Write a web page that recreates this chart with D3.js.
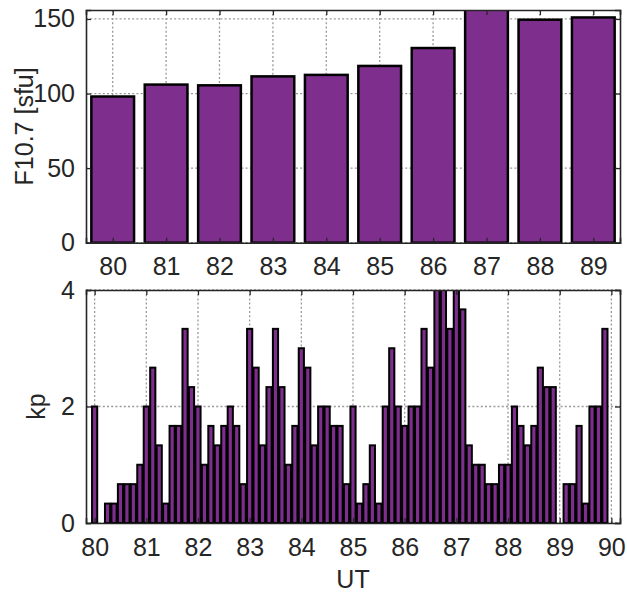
<!DOCTYPE html>
<html><head><meta charset="utf-8">
<script src="https://cdn.jsdelivr.net/npm/d3@7"></script>
<style>
body{margin:0;background:#fff;}
svg{display:block;font-family:"Liberation Sans",Arial,Helvetica,sans-serif;}
</style></head>
<body><svg id="c" width="627" height="596"></svg>
<script>
// ---- data ----
const days = [80, 81, 82, 83, 84, 85, 86, 87, 88, 89];
const f107 = [98, 106, 105.5, 111.5, 112.5, 118.5, 130.5, 157, 149.5, 151];
const f107Ticks = [0, 50, 100, 150];

const kpStartDay = 80;
const kpPerDay = 8; // 3-hour intervals
const kp = [
  2, 0, 0.333, 0.333, 0.667, 0.667, 0.667, 1,
  2, 2.667, 1.333, 0.333, 1.667, 1.667, 3.333, 2.333,
  2, 1, 1.667, 1.333, 1.667, 2, 1.667, 0.667,
  3.333, 2.667, 1.333, 2.333, 3.333, 2.333, 1, 1.667,
  3, 2.667, 1.333, 2, 2, 1.667, 1.667, 0.667,
  2, 0.333, 0.667, 1.333, 0.333, 2, 3, 2,
  1.667, 2, 2, 3.333, 2.667, 4, 4, 3.333,
  4, 3.667, 1.333, 1, 1, 0.667, 0.667, 1,
  1, 2, 1.667, 1.333, 1.667, 2.667, 2.333, 2.333,
  0, 0.667, 0.667, 1.667, 0.333, 2, 2, 3.333
];
const kpXTicks = [80, 81, 82, 83, 84, 85, 86, 87, 88, 89, 90];
const kpYTicks = [0, 2, 4];

// ---- style ----
const PURPLE = "#7e2f8e";
const AX = "#262626";
const GRID = "#999999";
const svg = d3.select("#c");

function panel(opt){
  const g = svg.append("g");
  const {x, y, xTicks, yTicks} = opt;
  const [x0, x1] = x.range(); const [y0, y1] = y.range();
  const cid = "clip" + opt.id;
  svg.append("clipPath").attr("id", cid).append("rect")
    .attr("x", x0).attr("y", y1).attr("width", x1 - x0).attr("height", y0 - y1);
  // grid
  const grid = g.append("g").attr("stroke", GRID).attr("stroke-width", 1.3)
    .attr("stroke-dasharray", "2,2.2");
  grid.selectAll("line.v").data(xTicks).join("line").attr("class","v")
    .attr("x1", d => x(d)).attr("x2", d => x(d)).attr("y1", y0).attr("y2", y1);
  grid.selectAll("line.h").data(yTicks).join("line").attr("class","h")
    .attr("y1", d => y(d)).attr("y2", d => y(d)).attr("x1", x0).attr("x2", x1);
  // bars
  g.append("g").attr("clip-path", `url(#${cid})`)
    .selectAll("rect").data(opt.data).join("rect")
    .attr("x", d => x(d.x - opt.bw/2))
    .attr("width", d => x(d.x + opt.bw/2) - x(d.x - opt.bw/2))
    .attr("y", d => y(d.v))
    .attr("height", d => y(0) - y(d.v))
    .attr("fill", PURPLE).attr("stroke", "#000").attr("stroke-width", opt.sw);
  // axes
  const fmt = d3.format("d");
  const ab = g.append("g").attr("transform", `translate(0,${y0})`)
    .call(d3.axisBottom(x).tickValues(xTicks).tickSize(-5).tickPadding(15).tickFormat(fmt));
  const at = g.append("g").attr("transform", `translate(0,${y1})`)
    .call(d3.axisTop(x).tickValues(xTicks).tickSize(-5).tickFormat(""));
  const al = g.append("g").attr("transform", `translate(${x0},0)`)
    .call(d3.axisLeft(y).tickValues(yTicks).tickSize(-5).tickPadding(11).tickFormat(fmt));
  const ar = g.append("g").attr("transform", `translate(${x1},0)`)
    .call(d3.axisRight(y).tickValues(yTicks).tickSize(-5).tickFormat(""));
  [ab, at, al, ar].forEach(a => {
    a.selectAll("path.domain").attr("stroke", AX).attr("stroke-width", 1.6);
    a.selectAll(".tick line").attr("stroke", AX).attr("stroke-width", 1.3);
    a.selectAll(".tick text").attr("fill", AX).attr("font-size", 25)
      .attr("font-family", "'Liberation Sans',Arial,sans-serif");
  });
  // y label
  g.append("text").attr("transform", `translate(${opt.ylx},${(y0 + y1)/2}) rotate(-90)`)
    .attr("text-anchor", "middle").attr("dy", "0.35em")
    .attr("font-size", 25).attr("fill", AX).text(opt.ylabel);
  return g;
}

// top panel: F10.7
const xTop = d3.scaleLinear().domain([79.5, 89.5]).range([86, 620]);
const yTop = d3.scaleLinear().domain([0, 156]).range([242.7, 10]);
panel({
  id: "top", x: xTop, y: yTop, xTicks: days, yTicks: f107Ticks,
  data: days.map((d, i) => ({x: d, v: f107[i]})), bw: 0.8, sw: 2.5,
  ylabel: "F10.7 [sfu]", ylx: 24
});

// bottom panel: kp
const xBot = d3.scaleLinear().domain([79.833, 90.167]).range([86, 620]);
const yBot = d3.scaleLinear().domain([0, 4]).range([523, 290]);
panel({
  id: "bot", x: xBot, y: yBot, xTicks: kpXTicks, yTicks: kpYTicks,
  data: kp.map((v, i) => ({x: kpStartDay + i / kpPerDay, v})), bw: 0.8 / kpPerDay, sw: 2,
  ylabel: "kp", ylx: 36
});

svg.append("text").attr("x", (86 + 620)/2).attr("y", 588)
  .attr("text-anchor", "middle").attr("font-size", 25).attr("fill", AX).text("UT");
</script></body></html>
